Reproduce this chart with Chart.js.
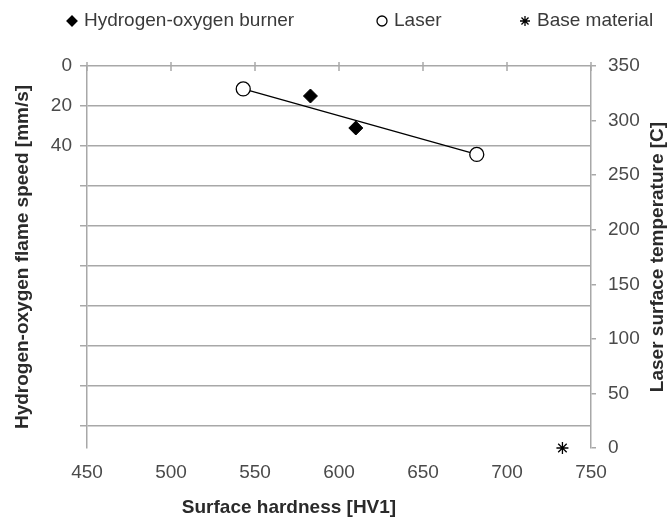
<!DOCTYPE html>
<html>
<head>
<meta charset="utf-8">
<script src="https://cdn.jsdelivr.net/npm/chart.js@4.4.1/dist/chart.umd.min.js"></script>
<style>html,body{margin:0;padding:0;background:#fff}</style>
</head>
<body>
<canvas id="chart" width="667" height="521"></canvas>
<script>
// values
const burnerHardness = [583, 610];
const burnerSpeed = [15, 31];
const laserHardness = [543, 682];
const laserTemp = [329, 269];
const baseHardness = [733];
const baseTemp = [0];
const seriesNames = ["Hydrogen-oxygen burner", "Laser", "Base material"];
const leftLabelsShown = [0, 20, 40];
const xTitle = "Surface hardness [HV1]";
const leftTitle = "Hydrogen-oxygen flame speed [mm/s]";
const rightTitle = "Laser surface temperature [C]";

const FONT = "'Liberation Sans', Arial, sans-serif";
const GRID = "#a8a8a8";
const TICK_COLOR = "#4a4a4a";

const toPoints = (xs, ys) => xs.map((x, i) => ({ x: x, y: ys[i] }));

// legend + axis titles + the small tick marks on the top axis line
const extras = {
  id: "extras",
  afterDraw(chart) {
    const ctx = chart.ctx;
    const area = chart.chartArea;
    const xs = chart.scales.x;

    ctx.save();
    ctx.strokeStyle = GRID;
    ctx.lineWidth = 1.5;
    xs.ticks.forEach(t => {
      const px = xs.getPixelForValue(t.value);
      ctx.beginPath();
      ctx.moveTo(px, area.top - 4);
      ctx.lineTo(px, area.top + 5);
      ctx.stroke();
    });
    ctx.restore();

    // legend
    const markerX = [72, 382, 525];
    ctx.save();
    ctx.font = "19px " + FONT;
    ctx.textBaseline = "middle";
    ctx.textAlign = "left";
    chart.data.datasets.forEach((ds, i) => {
      ctx.save();
      ctx.fillStyle = ds.pointStyle === "circle" ? "#fff" : "#000";
      ctx.strokeStyle = "#000";
      ctx.lineWidth = 1.3;
      Chart.helpers.drawPoint(ctx, {
        pointStyle: ds.pointStyle, radius: 5, rotation: 0, borderWidth: 1.3
      }, markerX[i], 21);
      ctx.restore();
      ctx.fillStyle = "#3a3a3a";
      ctx.fillText(ds.label, markerX[i] + 12, 21);
    });
    ctx.restore();

    // axis titles
    ctx.save();
    ctx.font = "bold 19px " + FONT;
    ctx.fillStyle = "#2a2a2a";
    ctx.textAlign = "center";
    ctx.textBaseline = "middle";
    ctx.fillText(xTitle, 289, 508);
    ctx.translate(23, (area.top + area.bottom) / 2);
    ctx.rotate(-Math.PI / 2);
    ctx.fillText(leftTitle, 0, 0);
    ctx.restore();
    ctx.save();
    ctx.font = "bold 19px " + FONT;
    ctx.fillStyle = "#2a2a2a";
    ctx.textAlign = "center";
    ctx.textBaseline = "middle";
    ctx.translate(658, (area.top + area.bottom) / 2);
    ctx.rotate(-Math.PI / 2);
    ctx.fillText(rightTitle, 0, 0);
    ctx.restore();
  }
};

new Chart(document.getElementById("chart"), {
  type: "scatter",
  data: {
    datasets: [
      {
        label: seriesNames[0],
        data: toPoints(burnerHardness, burnerSpeed),
        yAxisID: "y",
        pointStyle: "rectRot",
        pointRadius: 7,
        backgroundColor: "#000",
        borderColor: "#000",
        borderWidth: 1
      },
      {
        label: seriesNames[1],
        data: toPoints(laserHardness, laserTemp),
        yAxisID: "y2",
        showLine: true,
        pointStyle: "circle",
        pointRadius: 7,
        pointBackgroundColor: "#fff",
        pointBorderColor: "#000",
        pointBorderWidth: 1.3,
        borderColor: "#000",
        borderWidth: 1.3
      },
      {
        label: seriesNames[2],
        data: toPoints(baseHardness, baseTemp),
        yAxisID: "y2",
        pointStyle: "star",
        pointRadius: 6,
        backgroundColor: "#000",
        borderColor: "#000",
        borderWidth: 1.3
      }
    ]
  },
  options: {
    responsive: false,
    animation: false,
    clip: false,
    layout: { padding: { top: 66, left: 0, right: 0, bottom: 0 } },
    plugins: {
      legend: { display: false },
      tooltip: { enabled: false }
    },
    scales: {
      x: {
        type: "linear",
        min: 450,
        max: 750,
        grid: { display: false, drawTicks: false },
        border: { display: false },
        ticks: {
          stepSize: 50,
          padding: 13,
          color: TICK_COLOR,
          font: { family: FONT, size: 19 }
        },
        afterFit: s => { s.height = 73; }
      },
      y: {
        type: "linear",
        position: "left",
        reverse: true,
        min: 0,
        max: 191,
        grid: { color: GRID, lineWidth: 1.5, tickLength: 7 },
        border: { display: true, color: GRID, width: 1.5 },
        ticks: {
          stepSize: 20,
          includeBounds: false,
          padding: 8,
          color: TICK_COLOR,
          font: { family: FONT, size: 19 },
          callback: v => leftLabelsShown.includes(v) ? v : ""
        },
        afterFit: s => { s.width = 87; }
      },
      y2: {
        type: "linear",
        position: "right",
        min: 0,
        max: 350,
        grid: { drawOnChartArea: false, color: GRID, lineWidth: 1.5, tickLength: 5 },
        border: { display: true, color: GRID, width: 1.5 },
        ticks: {
          stepSize: 50,
          padding: 12,
          color: TICK_COLOR,
          font: { family: FONT, size: 19 }
        },
        afterFit: s => { s.width = 76; }
      }
    }
  },
  plugins: [extras]
});
</script>
</body>
</html>
